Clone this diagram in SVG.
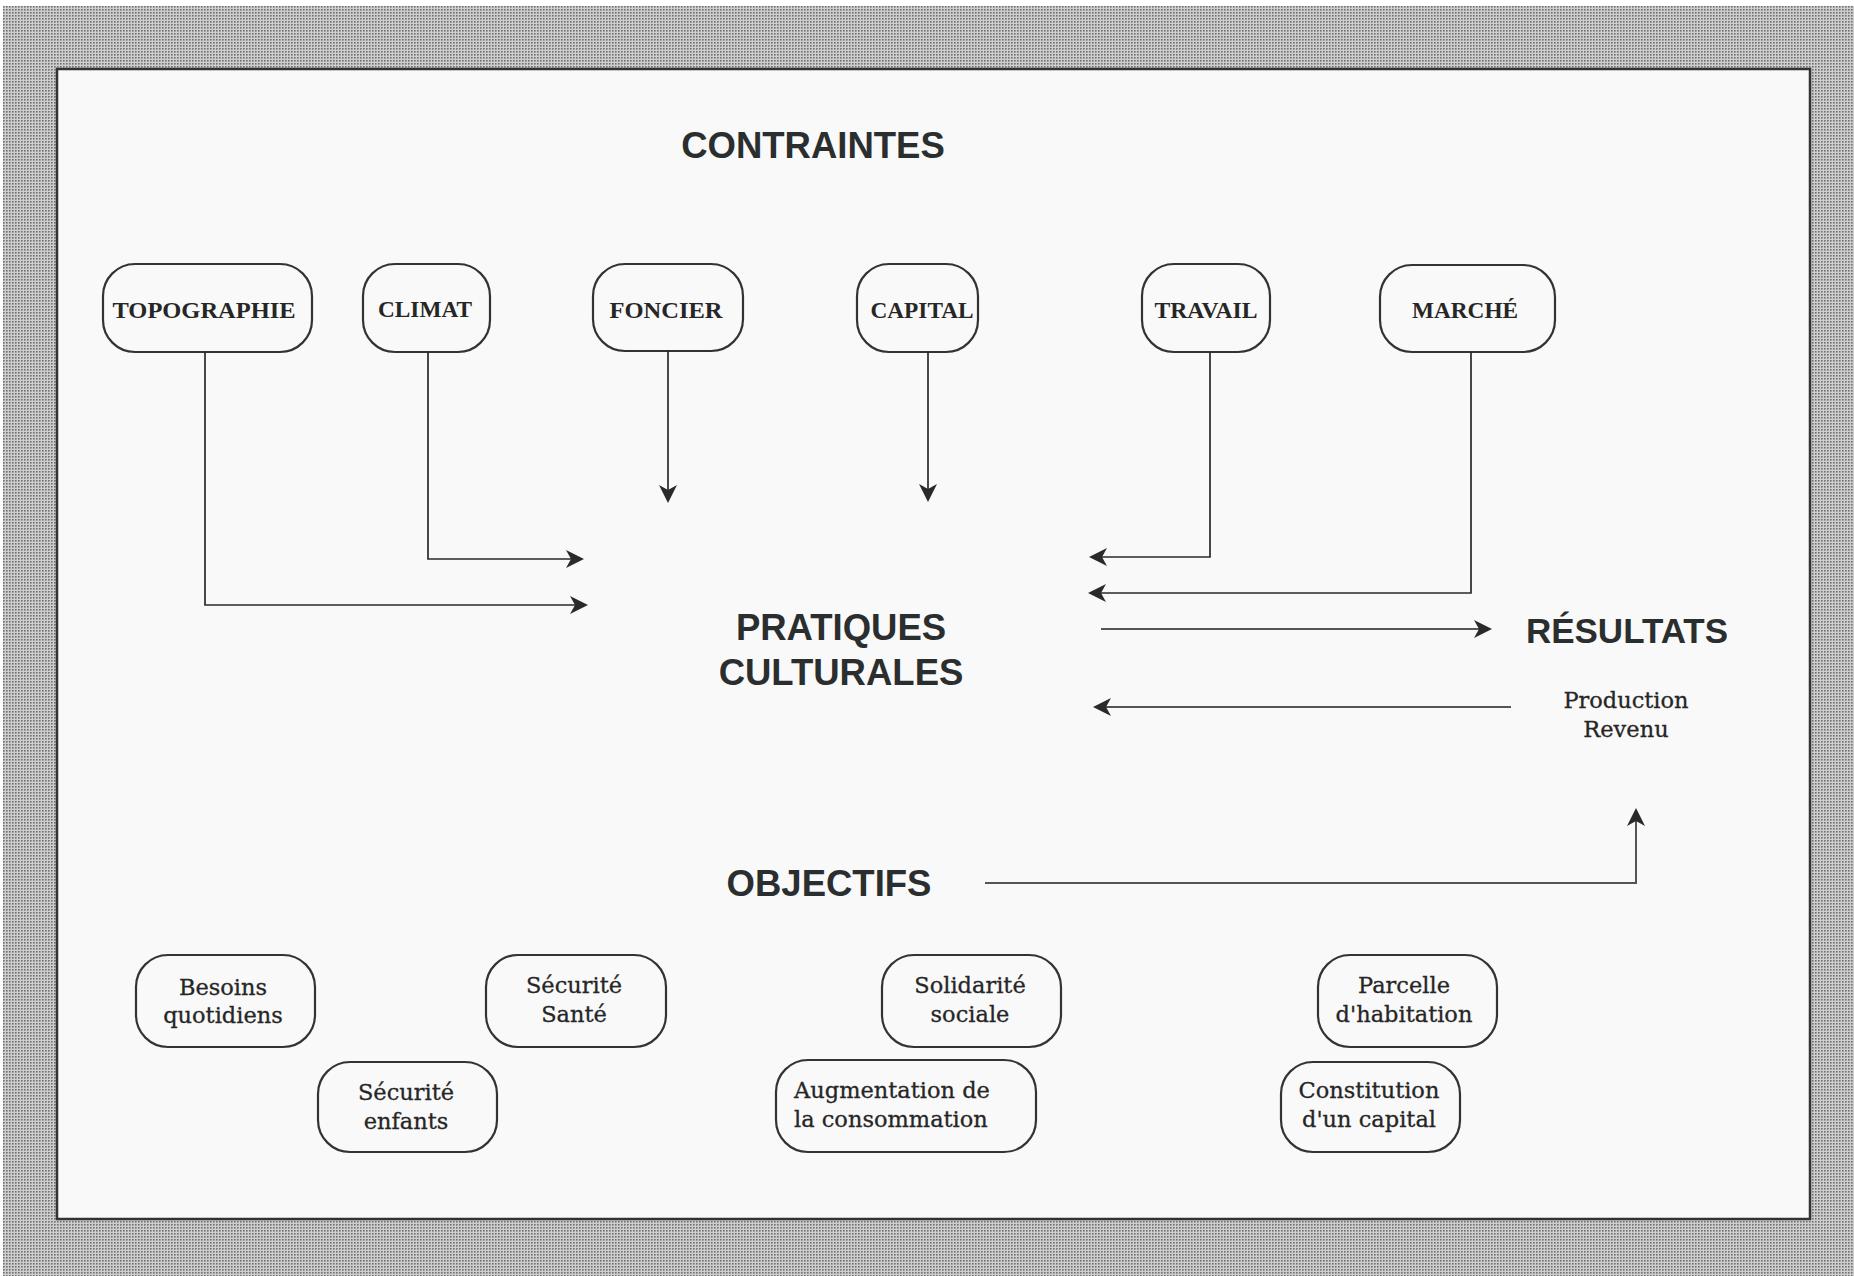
<svg xmlns="http://www.w3.org/2000/svg" width="1854" height="1276" viewBox="0 0 1854 1276">
  <defs>
    <pattern id="dots" width="3" height="3" patternUnits="userSpaceOnUse">
      <rect width="3" height="3" fill="#cecece"/>
      <rect width="1.6" height="1.6" fill="#707070"/>
    </pattern>
    <marker id="arr" viewBox="0 0 18 18" refX="16" refY="9" markerWidth="18" markerHeight="18" markerUnits="userSpaceOnUse" orient="auto">
      <path d="M0,0 L18,9 L0,18 L5,9 Z" fill="#2a2a2a"/>
    </marker>
    <style>
      .node rect { fill: #f9f9f9; stroke: #333; stroke-width: 2.2; }
      .top { font-family: "Liberation Serif", "Times New Roman", serif; font-weight: bold; font-size: 24px; fill: #262626; text-anchor: middle; }
      .obj { font-family: "DejaVu Serif", "Liberation Serif", serif; font-size: 22.5px; fill: #262626; stroke: #262626; stroke-width: 0.3; text-anchor: middle; }
      .title { font-family: "Liberation Sans", Arial, sans-serif; font-weight: bold; font-size: 36.5px; fill: #2b2e2e; text-anchor: middle; }
      .conn path { fill: none; stroke: #2a2a2a; stroke-width: 1.7; marker-end: url(#arr); }
      .conn path.gray { stroke: #555; stroke-width: 2; }
    </style>
  </defs>

  <rect width="1854" height="1276" fill="#ffffff"/>
  <rect x="3" y="6" width="1851" height="1270" fill="url(#dots)"/>
  <rect x="57" y="69" width="1753" height="1150" fill="#f9f9f9" stroke="#333" stroke-width="2.5"/>

  <g id="titles">
    <text id="contraintes" class="title" x="813" y="158">CONTRAINTES</text>
    <text id="objectifs" class="title" x="829" y="896">OBJECTIFS</text>
  </g>

  <g id="pratiques">
    <text class="title" x="841" y="640">PRATIQUES</text>
    <text class="title" x="841" y="685">CULTURALES</text>
  </g>

  <g id="resultats">
    <text class="title" x="1627" y="643" style="font-size:35px">RÉSULTATS</text>
    <text class="obj" x="1626" y="708">Production</text>
    <text class="obj" x="1626" y="737">Revenu</text>
  </g>

  <g id="n-topographie" class="node">
    <rect x="103" y="264" width="209" height="88" rx="32"/>
    <text class="top" x="204" y="318" textLength="183" lengthAdjust="spacingAndGlyphs">TOPOGRAPHIE</text>
  </g>
  <g id="n-climat" class="node">
    <rect x="363" y="264" width="127" height="88" rx="32"/>
    <text class="top" x="425" y="317" textLength="94" lengthAdjust="spacingAndGlyphs">CLIMAT</text>
  </g>
  <g id="n-foncier" class="node">
    <rect x="593" y="264" width="150" height="87" rx="32"/>
    <text class="top" x="666" y="318" textLength="113" lengthAdjust="spacingAndGlyphs">FONCIER</text>
  </g>
  <g id="n-capital" class="node">
    <rect x="857" y="264" width="121" height="88" rx="32"/>
    <text class="top" x="922" y="318" textLength="103" lengthAdjust="spacingAndGlyphs">CAPITAL</text>
  </g>
  <g id="n-travail" class="node">
    <rect x="1142" y="264" width="128" height="88" rx="32"/>
    <text class="top" x="1206" y="318" textLength="103" lengthAdjust="spacingAndGlyphs">TRAVAIL</text>
  </g>
  <g id="n-marche" class="node">
    <rect x="1380" y="265" width="175" height="87" rx="32"/>
    <text class="top" x="1465" y="318" textLength="106" lengthAdjust="spacingAndGlyphs">MARCHÉ</text>
  </g>

  <g id="o-besoins" class="node">
    <rect x="136" y="955" width="179" height="92" rx="32"/>
    <text class="obj" x="223" y="995">Besoins</text>
    <text class="obj" x="223" y="1023">quotidiens</text>
  </g>
  <g id="o-securite-sante" class="node">
    <rect x="486" y="955" width="180" height="92" rx="32"/>
    <text class="obj" x="574" y="993">Sécurité</text>
    <text class="obj" x="574" y="1022">Santé</text>
  </g>
  <g id="o-securite-enfants" class="node">
    <rect x="318" y="1062" width="179" height="90" rx="32"/>
    <text class="obj" x="406" y="1100">Sécurité</text>
    <text class="obj" x="406" y="1129">enfants</text>
  </g>
  <g id="o-solidarite" class="node">
    <rect x="882" y="955" width="179" height="92" rx="32"/>
    <text class="obj" x="970" y="993">Solidarité</text>
    <text class="obj" x="970" y="1022">sociale</text>
  </g>
  <g id="o-augmentation" class="node">
    <rect x="776" y="1060" width="260" height="92" rx="32"/>
    <text class="obj" x="794" y="1098" style="text-anchor:start">Augmentation de</text>
    <text class="obj" x="794" y="1127" style="text-anchor:start">la consommation</text>
  </g>
  <g id="o-parcelle" class="node">
    <rect x="1318" y="955" width="179" height="92" rx="32"/>
    <text class="obj" x="1404" y="993">Parcelle</text>
    <text class="obj" x="1404" y="1022">d'habitation</text>
  </g>
  <g id="o-constitution" class="node">
    <rect x="1281" y="1062" width="179" height="90" rx="32"/>
    <text class="obj" x="1369" y="1098">Constitution</text>
    <text class="obj" x="1369" y="1127">d'un capital</text>
  </g>

  <g id="connectors" class="conn">
    <path d="M205,352 V605 H586"/>
    <path d="M428,352 V559 H582"/>
    <path d="M668,351 V501"/>
    <path d="M928,352 V500"/>
    <path d="M1210,352 V557 H1091"/>
    <path d="M1471,352 V593 H1090"/>
    <path class="gray" d="M1101,629 H1490"/>
    <path class="gray" d="M1511,707 H1095"/>
    <path class="gray" d="M985,883 H1636 V810"/>
  </g>
</svg>
